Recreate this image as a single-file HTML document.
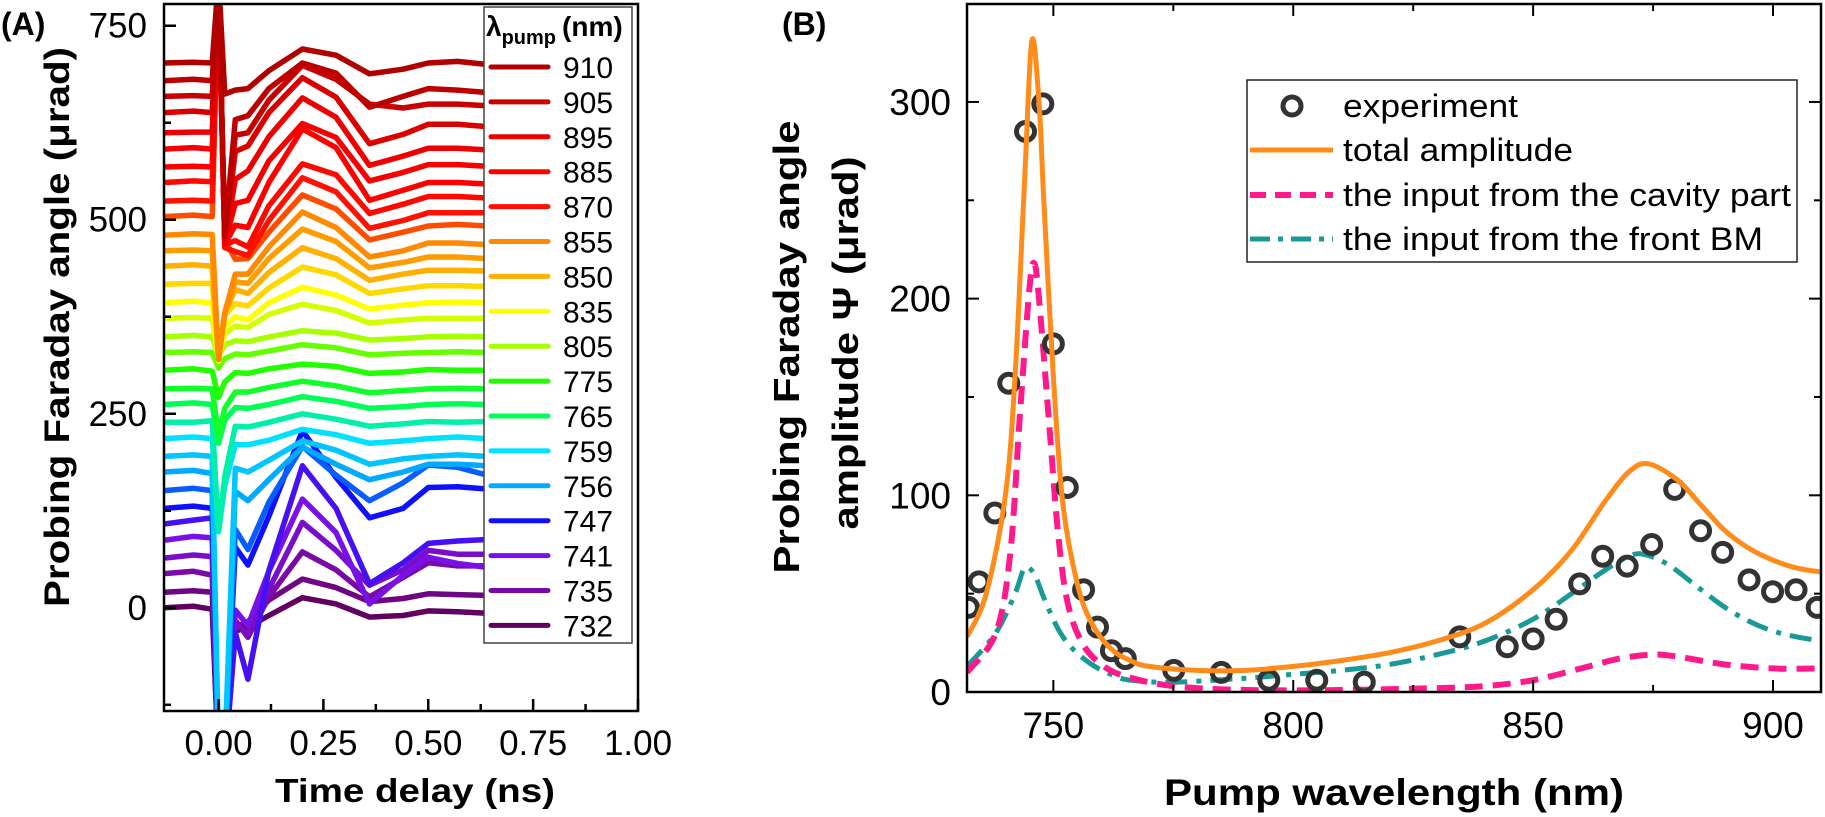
<!DOCTYPE html>
<html><head><meta charset="utf-8"><style>
html,body{margin:0;padding:0;background:#fff;}
svg{display:block;font-family:"Liberation Sans",Arial,sans-serif;}
</style></head><body>
<svg id="fig" width="1825" height="817" viewBox="0 0 1825 817" xmlns="http://www.w3.org/2000/svg">
<defs>
<clipPath id="clipA"><rect x="164" y="4" width="474" height="707"/></clipPath>
<clipPath id="clipB"><rect x="967" y="4" width="854" height="688"/></clipPath>
</defs>
<g id="panelA"></g>
<g id="panelB"></g>
</svg>
<script>
// ---------- Panel A data ----------
const timesA = [-0.13,-0.06,-0.015,0,0.015,0.04,0.07,0.12,0.2,0.28,0.36,0.44,0.5,0.57,0.64];
const baselinesA = [0,20,44,64,87,108,128,151,175,195,218,239,262,282,306,329,349,373,393,417,440,460,480,504,524,548,568,591,612,638,659,679,702];
const dev0 = [0,2,-2,-200,-200,-30,-25,-10,13,5,-12,-10,-4,-5,-7];
const dev1 = [0,2,0,-220,-220,-45,-38,-10,17,6,-12,-8,-2,-3,-4];
const dev2 = [0,3,-2,-250,-250,-60,-82,-30,28,5,-30,-5,14,10,10];
const dev3 = [0,4,2,-260,-260,-85,-97,-40,46,10,-35,-15,10,5,5];
const dev4 = [0,5,3,-290,-290,-90,-110,-40,53,10,-82,-45,-22,-30,-35];
const dev5 = [0,5,8,-310,-310,-140,-200,-60,75,20,-77,-50,-25,-22,-20];
const dev6 = [0,3,0,-330,-330,-50,-73,-10,100,40,-12,0,27,28,25];
const dev7 = [0,3,0,-350,-350,-50,-76,-15,57,20,-13,10,33,30,20];
const dev8 = [0,2,-2,-360,-360,-25,-37,-10,32,10,-10,0,10,10,8];
const dev9 = [0,2,0,-380,-380,-15,-20,-5,20,8,-10,-3,0,2,0];
const dev10 = [0,2,0,-120,-60,-8,-8,-2,12,5,-6,-3,0,2,0];
const dev11 = [0,0,2,-140,-70,-5,-6,0,11,4,-5,-2,1,0,1];
const dev12 = [0,2,0,-50,-20,-4,-5,0,10,4,-5,-3,0,1,0];
const dev13 = [0,1,0,-60,-25,-4,-4,2,10,4,-5,-2,0,1,0];
const dev14 = [0,2,-1,-35,-15,-3,-4,2,8,5,-4,-2,1,0,0];
const dev15 = [0,1,0,-20,-8,-2,-3,2,10,6,-3,-1,0,1,0];
const dev16 = [0,2,0,-25,-10,-5,-6,0,8,5,-4,-2,0,1,0];
const dev17 = [0,1,0,-50,-20,-10,-12,5,18,10,-6,-2,0,0,0];
const dev18 = [0,2,0,-75,-30,-18,-22,0,20,10,-8,-3,0,1,0];
const dev19 = [0,1,1,-95,-40,-25,-28,-5,22,12,-12,-6,-2,-2,-3];
const dev20 = [0,2,0,-120,-60,-30,-35,-8,24,10,-18,-10,-5,-5,-6];
const dev21 = [0,1,0,-140,-80,-40,-42,-10,28,12,-22,-15,-8,-8,-10];
const dev22 = [0,2,1,-160,-100,-50,-50,-15,30,10,-28,-20,-10,-10,-12];
const dev23 = [0,2,0,300,-30,-55,-54,-20,28,10,-30,-20,-12,-10,-12];
const dev24 = [0,1,0,280,-60,-65,-70,-25,30,12,-35,-25,-15,-15,-15];
const dev25 = [0,2,1,260,-80,-75,-83,-30,24,10,-40,-28,-18,-18,-20];
const dev26 = [0,1,0,240,-100,-75,-78,-20,49,25,-43,-30,-20,-20,-22];
const dev27 = [0,2,0,220,-120,-70,-66,-15,33,15,-41,-30,-20,-20,-22];
const dev28 = [0,1,1,200,-140,-60,-49,-5,45,20,-42,-30,-20,-20,-22];
const dev29 = [0,2,0,170,-160,-50,-43,0,45,20,-40,-28,-15,-15,-18];
const dev30 = [0,1,0,150,-180,-50,-47,-5,40,22,-10,-15,-10,-10,-12];
const dev31 = [0,2,0,130,-200,-50,-45,-10,23,10,-34,-20,-10,-12,-15];
const dev32 = [0,1,0,110,-40,-35,-33,-10,18,10,-14,-8,0,2,-2];
const devsA = [dev0,dev1,dev2,dev3,dev4,dev5,dev6,dev7,dev8,dev9,dev10,dev11,dev12,dev13,dev14,dev15,dev16,dev17,dev18,dev19,dev20,dev21,dev22,dev23,dev24,dev25,dev26,dev27,dev28,dev29,dev30,dev31,dev32];
const legendLabelsA = ["910","905","895","885","870","855","850","835","805","775","765","759","756","747","741","735","732"];
const legendColorsA = ["#b00000","#c80000","#ee0000","#ff0000","#ff1000","#ff8a00","#ffb000","#ffff00","#a8ff00","#22ff00","#00ff55","#00e0ff","#00aaff","#1010ff","#7a10e8","#7a0aa8","#600060"];
const xTicksA = [0,0.25,0.5,0.75,1.0];
const xTickLabelsA = ["0.00","0.25","0.50","0.75","1.00"];
const yTicksA = [0,250,500,750];

// ---------- Panel B data ----------
const expNm = [732.3,734.5,737.8,740.7,744.2,747.8,750,752.9,756.3,759.2,762.1,765,775.1,785,794.9,804.9,814.8,834.7,844.6,850,854.8,859.7,864.5,869.6,874.7,879.5,884.9,889.5,895,899.9,904.8,909.2];
const expVal = [43,56,91,157,285,299,177,104,52,33,21,17,11,10,6,6,5,28,23,27,37,55,69,64,75,103,82,71,57,51,52,43];
const totalNm = [732,736,740,742,744,745.5,747,748,750,752,755,758,762,766,770,780,790,800,810,820,830,840,850,858,865,870,874,880,885,890,895,900,905,910];
const totalVal = [28,50,100,160,260,331,300,250,160,95,55,35,22,16,13,11,11,13,16,20,26,35,52,72,97,112,116,108,95,82,73,67,63,61];
const cavNm = [732,738,741,743,745,746,747,749,751,753,756,760,765,775,790,810,830,840,850,860,868,875,880,890,900,910];
const cavVal = [10,30,70,140,205,218,200,140,80,45,25,14,8,3,1,1,2,3,6,12,17,19,18,14,12,12];
const bmNm = [732,738,742,744,746,748,751,754,758,762,766,775,790,800,810,820,830,840,850,858,865,870,873,878,885,890,895,900,905,910];
const bmVal = [13,30,50,63,60,48,32,22,14,9,6,5,7,9,11,14,19,26,37,50,62,69,70,65,52,43,36,31,28,26];
const xTicksB = [750,800,850,900];
const yTicksB = [0,100,200,300];
const legendLabelsB = ["experiment","total amplitude","the input from the cavity part","the input from the front BM"];

const NS = "http://www.w3.org/2000/svg";
function mk(parent, tag, attrs, text){
  const e = document.createElementNS(NS, tag);
  for (const k in attrs) e.setAttribute(k, attrs[k]);
  if (text !== undefined) e.textContent = text;
  parent.appendChild(e);
  return e;
}
function hex2rgb(h){return [parseInt(h.slice(1,3),16),parseInt(h.slice(3,5),16),parseInt(h.slice(5,7),16)];}
function mix(a,b,t){const A=hex2rgb(a),B=hex2rgb(b);return "rgb("+A.map((v,i)=>Math.round(v+(B[i]-v)*t)).join(",")+")";}
function smoothPath(P){
  let d = "M"+P[0][0].toFixed(1)+","+P[0][1].toFixed(1);
  for (let i=0;i<P.length-1;i++){
    const p0=P[Math.max(i-1,0)], p1=P[i], p2=P[i+1], p3=P[Math.min(i+2,P.length-1)];
    const c1=[p1[0]+(p2[0]-p0[0])/6, p1[1]+(p2[1]-p0[1])/6];
    const c2=[p2[0]-(p3[0]-p1[0])/6, p2[1]-(p3[1]-p1[1])/6];
    d += " C"+c1[0].toFixed(1)+","+c1[1].toFixed(1)+" "+c2[0].toFixed(1)+","+c2[1].toFixed(1)+" "+p2[0].toFixed(1)+","+p2[1].toFixed(1);
  }
  return d;
}

// ===== Panel A =====
const gA = document.getElementById('panelA');
const AX0=164, AX1=638, AY0=4, AY1=711;
const tMin=-0.13, tMax=1.0, vMin=-133, vMax=778;
const xA = t => AX0 + (t - tMin)/(tMax - tMin)*(AX1-AX0);
const yA = v => AY1 - (v - vMin)/(vMax - vMin)*(AY1-AY0);

const tracesG = mk(gA,'g',{'clip-path':'url(#clipA)'});


const revLeg = legendColorsA.slice().reverse();
for (let i=0;i<devsA.length;i++){
  const pos = i/2; const lo=Math.floor(pos), hi=Math.min(lo+1,revLeg.length-1);
  const col = mix(revLeg[lo], revLeg[hi], pos-lo);
  const pts = timesA.map((t,j)=>xA(t).toFixed(1)+","+yA(baselinesA[i]+devsA[i][j]).toFixed(1)).join(" ");
  const pl = mk(tracesG,'polyline',{points:pts,fill:'none',stroke:col,'stroke-width':5.5,'stroke-linejoin':'round'});
  
  
}
const frA = mk(gA,'rect',{x:AX0,y:AY0,width:AX1-AX0,height:AY1-AY0,fill:'none',stroke:'#000','stroke-width':2.5});


for (let t=0;t<=1.0001;t+=0.125){
  const major = Math.abs(t/0.25-Math.round(t/0.25))<1e-6;
  mk(gA,'line',{x1:xA(t),x2:xA(t),y1:AY1,y2:AY1-(major?12:7),stroke:'#000','stroke-width':2.5});
}
xTicksA.forEach((t,i)=>{
  const tx = mk(gA,'text',{x:xA(t),y:755,'font-size':35,'text-anchor':'middle'},xTickLabelsA[i]);
  
  
});
for (let v=-125; v<=750; v+=125){
  const major = v%250===0;
  mk(gA,'line',{x1:AX0,x2:AX0+(major?12:7),y1:yA(v),y2:yA(v),stroke:'#000','stroke-width':2.5});
}
yTicksA.forEach(v=>{
  const tx = mk(gA,'text',{x:147,y:yA(v)+12,'font-size':35,'text-anchor':'end'},String(v));
  
  
});
const xtA = mk(gA,'text',{x:415,y:802,'font-size':33,'font-weight':'bold','text-anchor':'middle',textLength:280,lengthAdjust:'spacingAndGlyphs'},'Time delay (ns)');


const ytA = mk(gA,'text',{x:0,y:0,'font-size':35,'font-weight':'bold','text-anchor':'middle',transform:'translate(69,327) rotate(-90)',textLength:560,lengthAdjust:'spacingAndGlyphs'},'Probing Faraday angle (μrad)');


const labA = mk(gA,'text',{x:1,y:35,'font-size':32,'font-weight':'bold'},'(A)');


const lgA = mk(gA,'g',{});


mk(lgA,'rect',{x:484,y:7,width:148,height:636,fill:'#fff',stroke:'#444','stroke-width':1.5});
const lt = mk(lgA,'text',{x:486,y:36,'font-size':28,'font-weight':'bold'});


mk(lt,'tspan',{},'λ'); mk(lt,'tspan',{dy:8,'font-size':20},'pump'); mk(lt,'tspan',{dy:-8,dx:6},'(nm)');
legendLabelsA.forEach((lab,i)=>{
  const y = 67 + i*34.9;
  const ln = mk(lgA,'line',{x1:491,x2:548,y1:y,y2:y,stroke:legendColorsA[i],'stroke-width':5,'stroke-linecap':'round'});
  
  
  const tx = mk(lgA,'text',{x:563,y:y+11,'font-size':30},lab);
  
  
});

// ===== Panel B =====
const gB = document.getElementById('panelB');
const BX0=967, BX1=1821, BY0=4, BY1=692;
const nMin=732, nMax=910, aMin=0, aMax=349.8;
const xB = n => BX0 + (n-nMin)/(nMax-nMin)*(BX1-BX0);
const yB = v => BY1 - (v-aMin)/(aMax-aMin)*(BY1-BY0);
const curvesG = mk(gB,'g',{'clip-path':'url(#clipB)'});


function curve(ns, vs, attrs, name){
  const P = ns.map((n,i)=>[xB(n), yB(vs[i])]);
  const a = Object.assign({d:smoothPath(P),fill:'none','stroke-linejoin':'round'}, attrs);
  const p = mk(curvesG,'path',a);
  
  
}
curve(bmNm,bmVal,{stroke:'#1a9a96','stroke-width':5,'stroke-dasharray':'22 9 5 9'},'front-bm-curve');
curve(cavNm,cavVal,{stroke:'#ff1a8c','stroke-width':6,'stroke-dasharray':'18 10'},'cavity-curve');
expNm.forEach((n,i)=>{
  const c = mk(curvesG,'circle',{cx:xB(n),cy:yB(expVal[i]),r:9,fill:'none',stroke:'#333','stroke-width':5});
  
  
});
curve(totalNm,totalVal,{stroke:'#ff8c1a','stroke-width':5},'total-amplitude-curve');
const frB = mk(gB,'rect',{x:BX0,y:BY0,width:BX1-BX0,height:BY1-BY0,fill:'none',stroke:'#000','stroke-width':2.5});


for (let n=750;n<=910;n+=25){
  const major = n%50===0;
  mk(gB,'line',{x1:xB(n),x2:xB(n),y1:BY1,y2:BY1-(major?12:7),stroke:'#000','stroke-width':2});
  mk(gB,'line',{x1:xB(n),x2:xB(n),y1:BY0,y2:BY0+(major?12:7),stroke:'#000','stroke-width':2});
}
for (let v=0;v<=340;v+=50){
  const major = v%100===0;
  mk(gB,'line',{x1:BX0,x2:BX0+(major?12:7),y1:yB(v),y2:yB(v),stroke:'#000','stroke-width':2});
  mk(gB,'line',{x1:BX1,x2:BX1-(major?12:7),y1:yB(v),y2:yB(v),stroke:'#000','stroke-width':2});
}
xTicksB.forEach(n=>{
  const tx = mk(gB,'text',{x:xB(n),y:738,'font-size':37,'text-anchor':'middle'},String(n));
  
  
});
yTicksB.forEach(v=>{
  const tx = mk(gB,'text',{x:951,y:yB(v)+13,'font-size':37,'text-anchor':'end'},String(v));
  
  
});
const xtB = mk(gB,'text',{x:1394,y:805,'font-size':37,'font-weight':'bold','text-anchor':'middle',textLength:460,lengthAdjust:'spacingAndGlyphs'},'Pump wavelength (nm)');


const yt1 = mk(gB,'text',{x:0,y:0,'font-size':36,'font-weight':'bold','text-anchor':'middle',transform:'translate(799,347) rotate(-90)',textLength:453,lengthAdjust:'spacingAndGlyphs'},'Probing Faraday angle');


const yt2 = mk(gB,'text',{x:0,y:0,'font-size':36,'font-weight':'bold','text-anchor':'middle',transform:'translate(858,343) rotate(-90)',textLength:373,lengthAdjust:'spacingAndGlyphs'},'amplitude Ψ (μrad)');


const labB = mk(gB,'text',{x:782,y:35,'font-size':32,'font-weight':'bold'},'(B)');


const lgB = mk(gB,'g',{});


mk(lgB,'rect',{x:1247,y:80,width:550,height:182,fill:'#fff',stroke:'#222','stroke-width':1.5});
const lgY = [106,150,195,239];
const lgW = [175,230,448,420];
mk(lgB,'circle',{cx:1292,cy:lgY[0],r:9,fill:'none',stroke:'#333','stroke-width':5});
mk(lgB,'line',{x1:1250,x2:1333,y1:lgY[1],y2:lgY[1],stroke:'#ff8c1a','stroke-width':5});
mk(lgB,'line',{x1:1250,x2:1333,y1:lgY[2],y2:lgY[2],stroke:'#ff1a8c','stroke-width':6,'stroke-dasharray':'16 9'});
mk(lgB,'line',{x1:1250,x2:1333,y1:lgY[3],y2:lgY[3],stroke:'#1a9a96','stroke-width':5,'stroke-dasharray':'20 8 5 8'});
legendLabelsB.forEach((lab,i)=>{
  const tx = mk(lgB,'text',{x:1343,y:lgY[i]+11,'font-size':32,textLength:lgW[i],lengthAdjust:'spacingAndGlyphs'},lab);
  
  
});
</script>
</body></html>
